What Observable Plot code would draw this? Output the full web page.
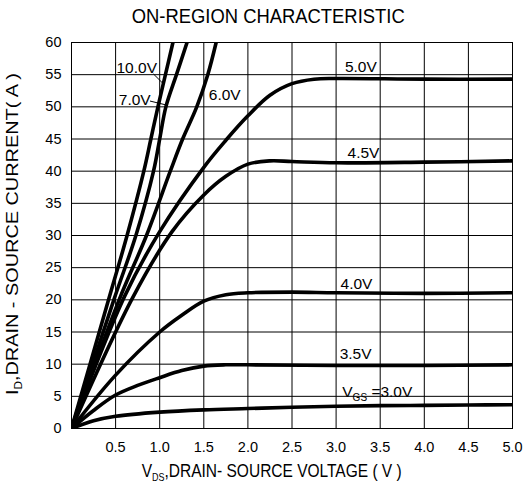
<!DOCTYPE html>
<html><head><meta charset="utf-8">
<script src="https://cdn.jsdelivr.net/npm/d3@7"></script>
<script src="https://cdn.jsdelivr.net/npm/@observablehq/plot@0.6"></script>
<style>body{margin:0;background:#fff;} svg{display:block;}</style>
</head><body><div id="chart"></div>
<script>
// ---- data ----
const xTicks = [0.5, 1.0, 1.5, 2.0, 2.5, 3.0, 3.5, 4.0, 4.5, 5.0];
const yTicks = [0, 5, 10, 15, 20, 25, 30, 35, 40, 45, 50, 55, 60];
const seriesNames = ["10.0V", "7.0V", "6.0V", "5.0V", "4.5V", "4.0V", "3.5V", "3.0V"];

const vds_10V = [0, 0.42, 0.63, 0.82, 0.90, 0.98, 1.065, 1.15];
const id_10V  = [0, 20, 30, 40, 45, 50, 55, 60];
const vds_7V  = [0, 0.48, 0.73, 0.93, 1.0, 1.07, 1.19, 1.31];
const id_7V   = [0, 20, 30, 40, 45, 50, 55, 60];
const vds_6V  = [0, 0.54, 0.85, 1.12, 1.26, 1.42, 1.545, 1.64];
const id_6V   = [0, 20, 30, 40, 45, 50, 55, 60];
const vds_5V  = [0, 0.60, 1.0, 1.5, 1.75, 2.0, 2.25, 2.5, 2.75, 3.0, 4.0, 5.0];
const id_5V   = [0, 20.5, 30.6, 40.6, 44.8, 48.6, 51.8, 53.6, 54.3, 54.4, 54.3, 54.3];
const vds_45V = [0, 0.70, 1.14, 1.5, 1.75, 2.0, 2.25, 2.5, 3.0, 4.0, 5.0];
const id_45V  = [0, 20.5, 30.6, 36.3, 39.2, 41.1, 41.6, 41.5, 41.3, 41.4, 41.6];
const vds_4V  = [0, 0.5, 1.0, 1.25, 1.5, 1.75, 2.0, 2.5, 3.0, 4.0, 5.0];
const id_4V   = [0, 8.3, 15.0, 17.6, 19.8, 20.8, 21.1, 21.2, 21.1, 21.0, 21.1];
const vds_35V = [0, 0.25, 0.5, 0.75, 1.0, 1.25, 1.5, 1.75, 2.0, 3.0, 4.0, 5.0];
const id_35V  = [0, 2.8, 5.2, 6.7, 7.9, 9.0, 9.7, 9.9, 9.9, 9.8, 9.8, 9.9];
const vds_3V  = [0, 0.25, 0.5, 1.0, 1.5, 2.0, 2.5, 3.0, 3.5, 4.0, 4.5, 5.0];
const id_3V   = [0, 1.2, 1.9, 2.55, 2.9, 3.1, 3.3, 3.45, 3.55, 3.6, 3.65, 3.7];

const labelText = ["10.0V", "7.0V", "6.0V", "5.0V", "4.5V", "4.0V", "3.5V", "VGS =3.0V"];
const labelV    = [0.51, 0.536, 1.557, 3.10, 3.13, 3.05, 3.04, 3.07];
const labelI    = [56.1, 51.0, 51.8, 56.2, 42.75, 22.5, 11.55, 5.7];

const leaderV1 = [0.93, 0.89];
const leaderI1 = [55.1, 50.9];
const leaderV2 = [1.04, 1.07];
const leaderI2 = [53.6, 50.3];

// ---- build tables ----
const seriesV = [vds_10V, vds_7V, vds_6V, vds_5V, vds_45V, vds_4V, vds_35V, vds_3V];
const seriesI = [id_10V, id_7V, id_6V, id_5V, id_45V, id_4V, id_35V, id_3V];
const rows = [];
seriesNames.forEach((name, k) => {
  seriesV[k].forEach((v, j) => rows.push({vgs: name, vds: v, id: seriesI[k][j]}));
});
const labels = labelText.map((t, k) => ({t, v: labelV[k], i: labelI[k]}));
const leaders = leaderV1.map((v, k) => ({v1: v, i1: leaderI1[k], v2: leaderV2[k], i2: leaderI2[k]}));

const font = "'Liberation Sans', Arial, sans-serif";

const plot = Plot.plot({
  width: 525,
  height: 483,
  marginLeft: 71,
  marginRight: 13,
  marginTop: 42,
  marginBottom: 55,
  style: {fontFamily: font, fontSize: "14.5px", color: "black", background: "white"},
  x: {domain: [0, 5]},
  y: {domain: [0, 60]},
  marks: [
    Plot.gridX(xTicks, {stroke: "black", strokeOpacity: 1, strokeWidth: 1}),
    Plot.gridY(yTicks, {stroke: "black", strokeOpacity: 1, strokeWidth: 1}),
    Plot.frame({stroke: "black", strokeWidth: 1}),
    Plot.axisX({ticks: xTicks, tickSize: 0, tickPadding: 13, tickFormat: d => d.toFixed(1), label: null}),
    Plot.axisY({ticks: yTicks, tickSize: 0, tickPadding: 10, label: null}),
    Plot.line(rows, {x: "vds", y: "id", z: "vgs", stroke: "black", strokeWidth: 3.6, curve: "catmull-rom", clip: true}),
    Plot.link(leaders, {x1: "v1", y1: "i1", x2: "v2", y2: "i2", stroke: "black", strokeWidth: 1}),
    Plot.text(labels, {x: "v", y: "i", text: "t", textAnchor: "start", fontSize: 15.5, fill: "black"})
  ]
});

document.getElementById("chart").appendChild(plot);
const svg = d3.select(plot);

// subscript helper
function fillParts(textSel, parts, subSize, shift) {
  textSel.text(null);
  let down = false;
  parts.forEach(([s, isSub]) => {
    const t = textSel.append("tspan").text(s);
    if (isSub && !down) { t.attr("font-size", subSize).attr("dy", shift); down = true; }
    else if (!isSub && down) { t.attr("dy", -shift); down = false; }
  });
}

// VGS label with subscript
svg.selectAll("text").filter(function() { return this.textContent === "VGS =3.0V"; })
  .each(function() { fillParts(d3.select(this), [["V", false], ["GS", true], [" =3.0V", false]], 10, 4); });

// title
svg.append("text")
  .attr("x", 131.7).attr("y", 22.7)
  .attr("text-anchor", "start")
  .attr("font-family", font).attr("font-size", 20).attr("fill", "black")
  .attr("textLength", 273).attr("lengthAdjust", "spacingAndGlyphs")
  .text("ON-REGION CHARACTERISTIC");

// x title
const xt = svg.append("text")
  .attr("x", 141.7).attr("y", 476.7)
  .attr("text-anchor", "start")
  .attr("font-family", font).attr("font-size", 19).attr("fill", "black")
  .attr("textLength", 260).attr("lengthAdjust", "spacingAndGlyphs");
fillParts(xt, [["V", false], ["DS", true], [",DRAIN- SOURCE VOLTAGE ( V )", false]], 11, 4);

// y title
const yt = svg.append("text")
  .attr("transform", "translate(18.3,395) rotate(-90)")
  .attr("text-anchor", "start")
  .attr("font-family", font).attr("font-size", 17).attr("fill", "black")
  .attr("textLength", 322).attr("lengthAdjust", "spacingAndGlyphs");
fillParts(yt, [["I", false], ["D", true], [",DRAIN - SOURCE CURRENT( A )", false]], 10, 4);
</script>
</body></html>
